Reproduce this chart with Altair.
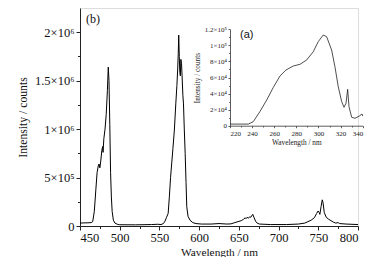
import altair as alt
import pandas as pd

# ---- main spectrum (b): emission, wavelength nm / intensity (x1e6 counts)
main_nm = [450, 455, 460, 464, 466, 468, 470, 471.5, 473, 474, 475, 476, 477.5, 478.5, 479,
           480, 481.5, 483, 484.5, 485.6, 486.5, 487.5, 488.5, 489.5, 490.5, 492, 494, 497,
           500, 520, 540, 548, 552, 555, 557, 559, 561, 562.5, 564, 565.5, 567, 568.8,
           570.6, 572, 573, 573.7, 574.3, 575, 575.6, 576.3, 577, 577.8, 578.5, 579.5,
           580.3, 581.3, 582.4, 583.5, 584.4, 586, 588.5, 592, 596, 603, 615, 625, 635,
           640, 645, 649, 653, 656, 658, 659, 660.5, 662, 663.5, 665, 667.5, 669, 671,
           673, 676, 690, 710, 725, 733, 737, 741, 745, 748, 749.7, 751, 752, 753.5, 755,
           756, 757.5, 760, 763, 766, 769, 772, 775, 777, 785, 800]
main_int = [0.03, 0.032, 0.033, 0.035, 0.045, 0.15, 0.38, 0.55, 0.62, 0.64, 0.60, 0.66, 0.78,
            0.82, 0.76, 0.90, 1.00, 1.15, 1.40, 1.64, 1.50, 1.05, 0.55, 0.30, 0.15, 0.06,
            0.03, 0.018, 0.013, 0.012, 0.015, 0.018, 0.015, 0.025, 0.05, 0.09, 0.13, 0.30,
            0.50, 0.65, 0.80, 0.99, 1.26, 1.45, 1.62, 1.78, 1.97, 1.75, 1.60, 1.55, 1.72,
            1.68, 1.55, 1.35, 1.26, 1.00, 0.75, 0.45, 0.20, 0.10, 0.06, 0.035, 0.025, 0.02,
            0.02, 0.025, 0.02, 0.022, 0.035, 0.045, 0.055, 0.07, 0.085, 0.075, 0.09, 0.08,
            0.095, 0.09, 0.12, 0.09, 0.05, 0.03, 0.02, 0.015, 0.015, 0.02, 0.03, 0.045,
            0.06, 0.085, 0.13, 0.155, 0.14, 0.12, 0.20, 0.27, 0.24, 0.14, 0.09, 0.07,
            0.055, 0.04, 0.03, 0.035, 0.025, 0.02, 0.015]

# ---- inset spectrum (a): excitation, wavelength nm / intensity (x1e4 counts)
inset_nm = [220, 230, 236.6, 241, 247, 253.2, 259.2, 265.2, 270.6, 277.2, 283.3, 289.3,
            295.3, 299.8, 304.3, 307.4, 311.9, 314.9, 317.9, 321, 323.1, 324.9, 326.4,
            327.6, 330, 333, 336.9, 339.4, 340]
inset_int = [0.2, 0.2, 0.2, 0.5, 1.74, 3.2, 4.78, 6.19, 6.93, 7.43, 7.64, 8.18, 9.21,
             10.46, 11.29, 11.08, 9.42, 7.34, 4.85, 2.99, 2.29, 2.79, 4.53, 2.37, 1.05,
             0.92, 1.2, 1.46, 1.2]

# ---- ticks
main_x_ticks = [450, 500, 550, 600, 650, 700, 750, 800]
main_x_minor = [475, 525, 575, 625, 675, 725, 775]
main_y_ticks = [0, 500000, 1000000, 1500000, 2000000]
main_y_labels = ["0", "5×10⁵", "1×10⁶", "1.5×10⁶", "2×10⁶"]
main_y_minor = [250000, 750000, 1250000, 1750000]
inset_x_ticks = [220, 240, 260, 280, 300, 320, 340]
inset_x_minor = [230, 250, 270, 290, 310, 330]
inset_y_ticks = [0, 20000, 40000, 60000, 80000, 100000, 120000]
inset_y_labels = ["0", "2×10⁴", "4×10⁴", "6×10⁴", "8×10⁴", "1×10⁵", "1.2×10⁵"]
inset_y_minor = [10000, 30000, 50000, 70000, 90000, 110000]

main_df = pd.DataFrame({"nm": main_nm, "I": [v * 1e6 for v in main_int]})
inset_df = pd.DataFrame({"nm": inset_nm, "I": [v * 1e4 for v in inset_int]})


def label_expr(vals, labs):
    expr = "''"
    for v, l in reversed(list(zip(vals, labs))):
        expr = f"datum.value == {v} ? '{l}' : " + expr
    return expr


SERIF = "'Liberation Serif', 'Times New Roman', Times, serif"
SANS = "'Liberation Sans', Arial, sans-serif"
W, H = 278, 218

main_x_scale = alt.Scale(domain=[450, 800], nice=False, zero=False)
main_y_scale = alt.Scale(domain=[0, 2250000], nice=False)
inset_x_scale = alt.Scale(domain=[220, 340], range=[150, 282.7], nice=False, zero=False)
inset_y_scale = alt.Scale(domain=[0, 120000], range=[117.7, 21.3], nice=False)

main_axis_common = dict(labelFont=SERIF, titleFont=SERIF, labelFontSize=12.5,
                        titleFontWeight="normal", labelColor="#111",
                        titleColor="#111", domainColor="#222", tickColor="#222",
                        tickSize=4, grid=False)

main = alt.Chart(main_df).mark_line(color="black", strokeWidth=1).encode(
    x=alt.X("nm:Q", scale=main_x_scale,
            axis=alt.Axis(orient="bottom", values=main_x_ticks, title="Wavelength / nm",
                          titlePadding=3, labelPadding=1, titleFontSize=11.3,
                          **main_axis_common)),
    y=alt.Y("I:Q", scale=main_y_scale,
            axis=alt.Axis(orient="left", values=main_y_ticks,
                          labelExpr=label_expr(main_y_ticks, main_y_labels),
                          title="Intensity / counts", titlePadding=6, labelPadding=2,
                          titleFontSize=11.7, **main_axis_common)),
)

minor = alt.Chart(main_df).mark_line(strokeOpacity=0).encode(
    x=alt.X("nm:Q", scale=main_x_scale,
            axis=alt.Axis(orient="bottom", values=main_x_minor, labels=False, domain=False,
                          tickSize=2.5, tickColor="#222", title=None, grid=False)),
    y=alt.Y("I:Q", scale=main_y_scale,
            axis=alt.Axis(orient="left", values=main_y_minor, labels=False, domain=False,
                          tickSize=2.5, tickColor="#222", title=None, grid=False)),
)

inset_axis_common = dict(labelFont=SERIF, titleFont=SERIF, labelFontSize=7,
                         titleFontSize=7.3, titleFontWeight="normal", labelColor="#222",
                         titleColor="#222", domainColor="#333", tickColor="#333",
                         tickSize=2, labelPadding=1.5, grid=False, domainWidth=0.8,
                         tickWidth=0.8)

inset = alt.Chart(inset_df).mark_line(color="#222", strokeWidth=0.8).encode(
    x=alt.X("nm:Q", scale=inset_x_scale,
            axis=alt.Axis(orient="bottom", offset=-100.3, values=inset_x_ticks,
                          title="Wavelength / nm", titlePadding=2, **inset_axis_common)),
    y=alt.Y("I:Q", scale=inset_y_scale,
            axis=alt.Axis(orient="left", offset=-150, values=inset_y_ticks,
                          labelExpr=label_expr(inset_y_ticks, inset_y_labels),
                          title="Intensity / counts", titlePadding=3, **inset_axis_common)),
)

inset_minor = alt.Chart(inset_df).mark_line(strokeOpacity=0).encode(
    x=alt.X("nm:Q", scale=inset_x_scale,
            axis=alt.Axis(orient="bottom", offset=-100.3, values=inset_x_minor, labels=False,
                          domain=False, tickSize=1.3, tickColor="#333", tickWidth=0.8,
                          title=None, grid=False)),
    y=alt.Y("I:Q", scale=inset_y_scale,
            axis=alt.Axis(orient="left", offset=-150, values=inset_y_minor, labels=False,
                          domain=False, tickSize=1.3, tickColor="#333", tickWidth=0.8,
                          title=None, grid=False)),
)

lab_b = alt.Chart(pd.DataFrame({"t": ["(b)"]})).mark_text(
    font=SERIF, fontSize=12, align="left", baseline="middle", color="#111"
).encode(x=alt.value(6), y=alt.value(11), text="t:N")

lab_a = alt.Chart(pd.DataFrame({"t": ["(a)"]})).mark_text(
    font=SANS, fontSize=11, align="left", baseline="middle", color="#111"
).encode(x=alt.value(160), y=alt.value(27), text="t:N")

chart = alt.layer(main, minor, inset, inset_minor, lab_b, lab_a).resolve_scale(
    x="independent", y="independent"
).resolve_axis(x="independent", y="independent").properties(
    width=W, height=H,
    autosize=alt.AutoSizeParams(type="none"),
    padding={"left": 72, "top": 0, "right": 26, "bottom": 31},
).configure_view(strokeWidth=0).configure(background="white")

chart.save("out.html", embed_options={"renderer": "svg", "actions": False})
